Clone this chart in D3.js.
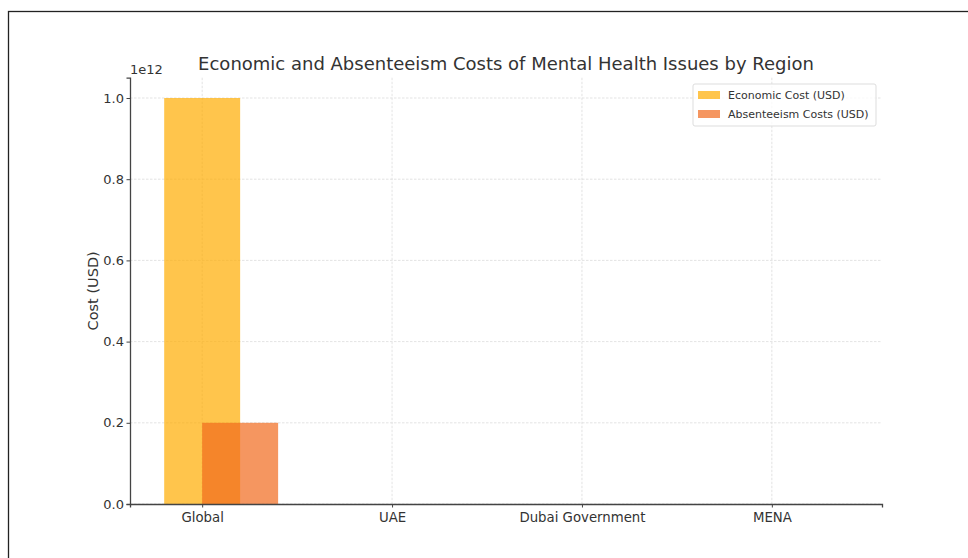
<!DOCTYPE html>
<html><head><meta charset="utf-8">
<script src="https://cdn.jsdelivr.net/npm/d3@7"></script>
<style>body{margin:0;background:#fff;} svg{display:block;}</style>
</head><body>
<svg id="chart" width="968" height="558"></svg>
<script>
const regions = ["Global", "UAE", "Dubai Government", "MENA"];
const economicCost = [1.0e12, 0, 0, 0];
const absenteeismCost = [0.2e12, 0, 0, 0];
const yTicks = [0, 0.2e12, 0.4e12, 0.6e12, 0.8e12, 1.0e12];
const yTickLabels = ["0.0", "0.2", "0.4", "0.6", "0.8", "1.0"];
const seriesNames = ["Economic Cost (USD)", "Absenteeism Costs (USD)"];
const seriesColors = ["#ffac00", "#f1691c"];

const svg = d3.select("#chart");
const font = "'DejaVu Sans',sans-serif";
const m = {left: 130, right: 882, top: 77.7, bottom: 504};
const barW = 0.4;

svg.append("rect").attr("x", 8.5).attr("y", 11.5).attr("width", 1000).attr("height", 600)
  .attr("fill", "none").attr("stroke", "#222").attr("stroke-width", 1.3);

const x = d3.scaleLinear().domain([-0.38, 3.58]).range([m.left, m.right]);
const y = d3.scaleLinear().domain([0, 1.05e12]).range([m.bottom, m.top]);

// grid
const g = svg.append("g");
g.selectAll(".vg").data(regions).enter().append("line")
  .attr("x1", (d,i)=>x(i)).attr("x2", (d,i)=>x(i)).attr("y1", m.top).attr("y2", m.bottom)
  .attr("stroke", "#dcdcdc").attr("stroke-width", 0.8).attr("stroke-dasharray", "2.5,1.5");
g.selectAll(".hg").data(yTicks).enter().append("line")
  .attr("x1", m.left).attr("x2", m.right).attr("y1", d=>y(d)).attr("y2", d=>y(d))
  .attr("stroke", "#dcdcdc").attr("stroke-width", 0.8).attr("stroke-dasharray", "2.5,1.5");

// bars
svg.append("g").selectAll("rect").data(economicCost).enter().append("rect")
  .attr("x", (d,i)=>x(i - barW/2)).attr("width", x(barW)-x(0))
  .attr("y", d=>y(d)).attr("height", d=>y(0)-y(d))
  .attr("fill", seriesColors[0]).attr("fill-opacity", 0.7);
svg.append("g").selectAll("rect").data(absenteeismCost).enter().append("rect")
  .attr("x", (d,i)=>x(i)).attr("width", x(barW)-x(0))
  .attr("y", d=>y(d)).attr("height", d=>y(0)-y(d))
  .attr("fill", seriesColors[1]).attr("fill-opacity", 0.7);

// axes
const xAxis = d3.axisBottom(x).tickValues(d3.range(regions.length)).tickFormat(i=>regions[i]).tickSizeOuter(0).tickSize(3.5).tickPadding(5);
const xa = svg.append("g").attr("transform", `translate(0,${m.bottom})`).call(xAxis);
const yAxis = d3.axisLeft(y).tickValues(yTicks).tickFormat((d,i)=>yTickLabels[i]).tickSizeOuter(0).tickSize(3.5).tickPadding(2.5);
const ya = svg.append("g").attr("transform", `translate(${m.left},0)`).call(yAxis);
[xa, ya].forEach(a=>{
  a.select(".domain").attr("stroke", "#444").attr("stroke-width", 1.3);
  a.selectAll(".tick line").attr("stroke", "#444").attr("stroke-width", 1);
  a.selectAll(".tick text").attr("font-family", font).attr("font-size", 13).attr("fill", "#333");
});
xa.selectAll(".tick text").attr("font-size", 13.3);

svg.append("text").attr("x", m.left).attr("y", 74).text("1e12")
  .attr("font-family", font).attr("font-size", 13).attr("fill", "#333");

svg.append("text").attr("transform", `translate(98,${(m.top+m.bottom)/2}) rotate(-90)`)
  .attr("text-anchor", "middle").text("Cost (USD)")
  .attr("font-family", font).attr("font-size", 14.5).attr("fill", "#333");

svg.append("text").attr("x", (m.left+m.right)/2).attr("y", 70).attr("text-anchor", "middle")
  .text("Economic and Absenteeism Costs of Mental Health Issues by Region")
  .attr("font-family", font).attr("font-size", 18).attr("fill", "#333");

// legend
const lg = svg.append("g").attr("transform", "translate(693,84)");
lg.append("rect").attr("width", 183).attr("height", 42).attr("rx", 2)
  .attr("fill", "#fff").attr("fill-opacity", 0.8).attr("stroke", "#ddd");
seriesNames.forEach((n,i)=>{
  lg.append("rect").attr("x", 5).attr("y", 7 + i*19).attr("width", 22).attr("height", 8)
    .attr("fill", seriesColors[i]).attr("fill-opacity", 0.7);
  lg.append("text").attr("x", 35).attr("y", 15 + i*19).text(n)
    .attr("font-family", font).attr("font-size", 11).attr("fill", "#333");
});
</script>
</body></html>
